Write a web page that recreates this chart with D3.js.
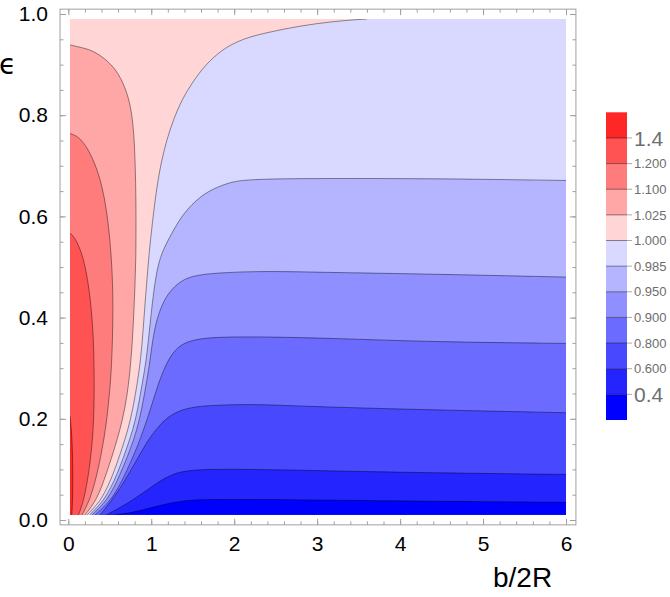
<!DOCTYPE html>
<html>
<head>
<meta charset="utf-8">
<script src="https://cdn.jsdelivr.net/npm/d3@7"></script>
<style>
body { margin: 0; background: #fff; }
text { font-family: "Liberation Sans", Arial, sans-serif; }
</style>
</head>
<body>
<div id="chart"></div>
<script>
// contour levels (lowest first) and legend labels
var levels = [0.4, 0.6, 0.8, 0.9, 0.95, 0.985, 1.0, 1.025, 1.1, 1.2, 1.4];
var levelLabels = ["0.4", "0.600", "0.800", "0.900", "0.950", "0.985", "1.000", "1.025", "1.100", "1.200", "1.4"];
var xTicks = [0, 1, 2, 3, 4, 5, 6];
var yTicks = [0, 0.2, 0.4, 0.6, 0.8, 1.0];

// data range of the plot
var bMin = 0.02, bMax = 6, eMin = 0.01, eMax = 0.99;

// contour lines as [b/2R, eps], each one starts on the bottom edge
var c040 = [[0.560,0.010],[0.740,0.014],[0.900,0.020],[1.126,0.030],[1.367,0.038],[1.648,0.041],[2.793,0.040],[4.400,0.037],[6.0,0.035]];
var c060 = [[0.460,0.010],[0.684,0.030],[0.864,0.049],[1.045,0.071],[1.250,0.091],[1.491,0.101],[2.392,0.100],[3.999,0.094],[6.0,0.090]];
var c080 = [[0.382,0.010],[0.575,0.049],[0.720,0.089],[0.840,0.123],[0.961,0.158],[1.081,0.184],[1.202,0.204],[1.347,0.217],[1.527,0.224],[1.768,0.227],[2.251,0.229],[2.793,0.225],[3.999,0.219],[6.0,0.212]];
var c090 = [[0.322,0.010],[0.527,0.040],[0.684,0.089],[0.804,0.134],[0.876,0.164],[0.949,0.198],[1.009,0.229],[1.081,0.267],[1.166,0.304],[1.262,0.332],[1.383,0.350],[1.588,0.359],[1.909,0.362],[2.392,0.362],[3.195,0.359],[4.400,0.352],[6.0,0.349]];
var c095 = [[0.286,0.010],[0.479,0.040],[0.623,0.089],[0.744,0.138],[0.828,0.178],[0.888,0.221],[0.937,0.267],[0.979,0.306],[1.015,0.356],[1.069,0.399],[1.154,0.435],[1.250,0.457],[1.371,0.474],[1.527,0.484],[1.853,0.489],[2.392,0.492],[3.195,0.489],[4.400,0.486],[6.0,0.480]];
var c0985 = [[0.256,0.010],[0.442,0.040],[0.587,0.089],[0.696,0.138],[0.780,0.178],[0.840,0.221],[0.888,0.267],[0.931,0.306],[0.967,0.356],[1.003,0.415],[1.039,0.464],[1.081,0.504],[1.142,0.534],[1.226,0.560],[1.326,0.590],[1.447,0.617],[1.612,0.642],[1.768,0.656],[1.925,0.666],[2.110,0.673],[2.793,0.675],[3.999,0.675],[5.204,0.673],[6.0,0.671]];
var c100 = [[0.225,0.010],[0.406,0.040],[0.539,0.089],[0.641,0.138],[0.720,0.178],[0.780,0.221],[0.828,0.267],[0.864,0.306],[0.894,0.356],[0.919,0.415],[0.943,0.464],[0.967,0.514],[0.997,0.563],[1.039,0.623],[1.081,0.672],[1.126,0.711],[1.186,0.751],[1.266,0.791],[1.367,0.830],[1.488,0.863],[1.648,0.899],[1.849,0.929],[2.030,0.945],[2.190,0.955],[2.392,0.963],[2.592,0.970],[2.793,0.976],[2.994,0.981],[3.195,0.985],[3.396,0.988],[3.597,0.990]];
var c1025 = [[0.201,0.010],[0.346,0.040],[0.454,0.089],[0.551,0.138],[0.623,0.178],[0.684,0.221],[0.726,0.267],[0.750,0.306],[0.774,0.356],[0.792,0.415],[0.804,0.464],[0.814,0.514],[0.816,0.563],[0.816,0.632],[0.808,0.698],[0.792,0.764],[0.756,0.817],[0.684,0.856],[0.583,0.889],[0.442,0.912],[0.282,0.929],[0.121,0.935],[0.020,0.939]];
var c110 = [[0.165,0.010],[0.262,0.040],[0.346,0.089],[0.406,0.138],[0.448,0.178],[0.479,0.221],[0.506,0.267],[0.521,0.306],[0.533,0.356],[0.539,0.415],[0.535,0.464],[0.521,0.514],[0.497,0.563],[0.461,0.613],[0.406,0.662],[0.322,0.705],[0.222,0.738],[0.121,0.758],[0.020,0.764]];
var c120 = [[0.123,0.010],[0.189,0.040],[0.244,0.089],[0.280,0.138],[0.300,0.178],[0.310,0.221],[0.313,0.267],[0.310,0.306],[0.304,0.356],[0.280,0.415],[0.244,0.464],[0.201,0.504],[0.147,0.534],[0.093,0.553],[0.051,0.563],[0.020,0.567]];
var c140 = [[0.042,0.010],[0.052,0.040],[0.055,0.089],[0.050,0.138],[0.038,0.178],[0.020,0.206]];

var contours = [c040, c060, c080, c090, c095, c0985, c100, c1025, c110, c120, c140];

// band colours, lowest band first
var bandColors = ["#0000ff", "#2424ff", "#4848ff", "#6b6bff", "#8f8fff", "#b4b4ff", "#d9d9ff",
                  "#ffd5d5", "#ffa7a7", "#ff7c7c", "#ff5252", "#ff2626"];

var svg = d3.select("#chart").append("svg")
    .attr("width", 670)
    .attr("height", 597);

var x = d3.scaleLinear().domain([0, 6]).range([68.3, 566]);
var y = d3.scaleLinear().domain([0, 1]).range([520, 14]);

// frame is the data range padded by 2%
var padB = 0.02 * (bMax - bMin), padE = 0.02 * (eMax - eMin);
var fx0 = x(bMin - padB), fx1 = x(bMax + padB);
var fy0 = y(eMax + padE), fy1 = y(eMin - padE);

svg.append("clipPath")
    .attr("id", "plotClip")
    .append("rect")
    .attr("x", x(bMin))
    .attr("y", y(eMax))
    .attr("width", x(bMax) - x(bMin))
    .attr("height", y(eMin) - y(eMax));

var plot = svg.append("g").attr("clip-path", "url(#plotClip)");

plot.append("rect")
    .attr("x", x(bMin))
    .attr("y", y(eMax))
    .attr("width", x(bMax) - x(bMin))
    .attr("height", y(eMin) - y(eMax))
    .attr("fill", bandColors[0]);

var line = d3.line()
    .x(function(d) { return x(d[0]); })
    .y(function(d) { return y(d[1]); })
    .curve(d3.curveBasis);

// walk the border back to the start, counter-clockwise
function closeCorners(end) {
    if (end[0] >= bMax - 1e-6) return [[bMax, eMax], [bMin, eMax], [bMin, eMin]];
    if (end[1] >= eMax - 1e-6) return [[bMin, eMax], [bMin, eMin]];
    return [[bMin, eMin]];
}

contours.forEach(function(c, i) {
    var corners = closeCorners(c[c.length - 1]);
    var d = line(c) + corners.map(function(p) {
        return "L" + x(p[0]) + "," + y(p[1]);
    }).join("") + "Z";
    plot.append("path")
        .attr("d", d)
        .attr("fill", bandColors[i + 1]);
});

contours.forEach(function(c) {
    plot.append("path")
        .attr("d", line(c))
        .attr("fill", "none")
        .attr("stroke", "#000")
        .attr("stroke-opacity", 0.42)
        .attr("stroke-width", 1);
});

// axes
var axisColor = "#a0a0a0";
var xMinor = d3.range(0, 6.001, 0.2);
var yMinor = d3.range(0, 1.001, 0.05);

function styleAxis(g) {
    g.select(".domain").remove();
    g.selectAll("line").attr("stroke", axisColor);
    g.selectAll("text").style("font-size", "21px").attr("fill", "#000");
}

svg.append("g")
    .attr("transform", "translate(0," + fy1 + ")")
    .call(d3.axisBottom(x).tickValues(xMinor).tickSizeInner(-3.5).tickSizeOuter(0).tickFormat(""))
    .call(styleAxis);
svg.append("g")
    .attr("transform", "translate(0," + fy1 + ")")
    .call(d3.axisBottom(x).tickValues(xTicks).tickSizeInner(-6).tickSizeOuter(0).tickPadding(11).tickFormat(d3.format("d")))
    .call(styleAxis);
svg.append("g")
    .attr("transform", "translate(0," + fy0 + ")")
    .call(d3.axisTop(x).tickValues(xMinor).tickSizeInner(-3.5).tickSizeOuter(0).tickFormat(""))
    .call(styleAxis);
svg.append("g")
    .attr("transform", "translate(0," + fy0 + ")")
    .call(d3.axisTop(x).tickValues(xTicks).tickSizeInner(-6).tickSizeOuter(0).tickFormat(""))
    .call(styleAxis);

svg.append("g")
    .attr("transform", "translate(" + fx0 + ",0)")
    .call(d3.axisLeft(y).tickValues(yMinor).tickSizeInner(-3.5).tickSizeOuter(0).tickFormat(""))
    .call(styleAxis);
svg.append("g")
    .attr("transform", "translate(" + fx0 + ",0)")
    .call(d3.axisLeft(y).tickValues(yTicks).tickSizeInner(-6).tickSizeOuter(0).tickPadding(12).tickFormat(d3.format(".1f")))
    .call(styleAxis);
svg.append("g")
    .attr("transform", "translate(" + fx1 + ",0)")
    .call(d3.axisRight(y).tickValues(yMinor).tickSizeInner(-3.5).tickSizeOuter(0).tickFormat(""))
    .call(styleAxis);
svg.append("g")
    .attr("transform", "translate(" + fx1 + ",0)")
    .call(d3.axisRight(y).tickValues(yTicks).tickSizeInner(-6).tickSizeOuter(0).tickFormat(""))
    .call(styleAxis);

svg.append("rect")
    .attr("x", fx0)
    .attr("y", fy0)
    .attr("width", fx1 - fx0)
    .attr("height", fy1 - fy0)
    .attr("fill", "none")
    .attr("stroke", axisColor)
    .attr("stroke-width", 1);

// axis titles
svg.append("text")
    .attr("x", 493)
    .attr("y", 587)
    .style("font-size", "28px")
    .attr("fill", "#000")
    .text("b/2R");

svg.append("text")
    .attr("x", -1)
    .attr("y", 74)
    .style("font-size", "28px")
    .style("font-family", "'DejaVu Sans', sans-serif")
    .attr("fill", "#000")
    .text("ϵ");

// colour legend
var cb = d3.scaleLinear().domain([0, bandColors.length]).range([420, 112.3]);
var legend = svg.append("g");

legend.selectAll("rect.band")
    .data(bandColors)
    .enter()
    .append("rect")
    .attr("class", "band")
    .attr("x", 606)
    .attr("width", 21)
    .attr("y", function(d, i) { return cb(i + 1); })
    .attr("height", function(d, i) { return cb(i) - cb(i + 1); })
    .attr("fill", function(d) { return d; });

legend.selectAll("line.sep")
    .data(levels)
    .enter()
    .append("line")
    .attr("class", "sep")
    .attr("x1", 606)
    .attr("x2", 627)
    .attr("y1", function(d, i) { return cb(i + 1); })
    .attr("y2", function(d, i) { return cb(i + 1); })
    .attr("stroke", "#000")
    .attr("stroke-opacity", 0.45);

legend.selectAll("line.tick")
    .data(levels)
    .enter()
    .append("line")
    .attr("class", "tick")
    .attr("x1", 627)
    .attr("x2", 632)
    .attr("y1", function(d, i) { return cb(i + 1); })
    .attr("y2", function(d, i) { return cb(i + 1); })
    .attr("stroke", "#aaa");

legend.selectAll("text")
    .data(levelLabels)
    .enter()
    .append("text")
    .attr("x", 634)
    .attr("y", function(d, i) { return cb(i + 1); })
    .attr("dy", "0.36em")
    .style("font-size", function(d, i) { return (i === 0 || i === levelLabels.length - 1) ? "21px" : "13px"; })
    .attr("fill", "#6e6e6e")
    .text(function(d) { return d; });
</script>
</body>
</html>
